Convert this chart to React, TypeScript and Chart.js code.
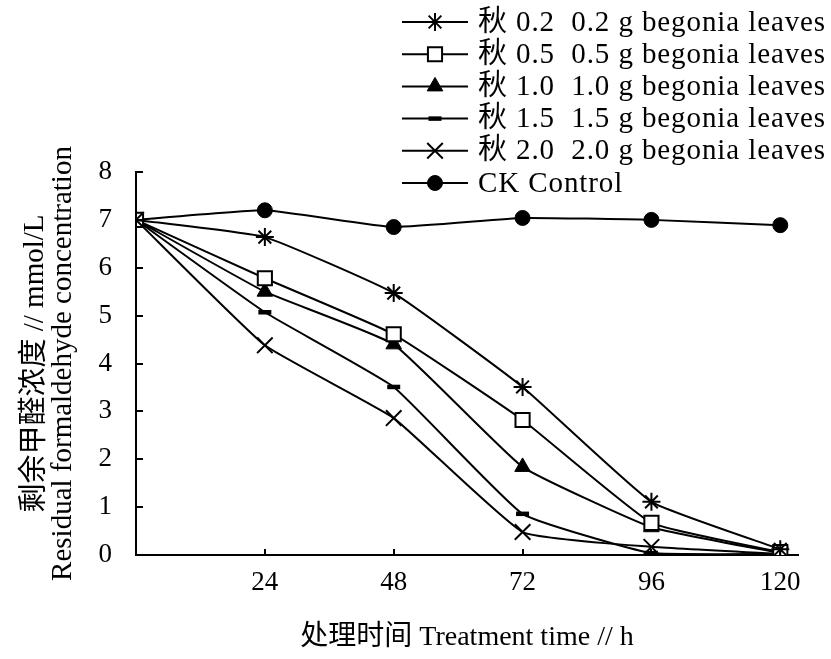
import React, { useEffect, useRef } from 'react';
import { Chart, registerables, PointElement } from 'chart.js';

Chart.register(...registerables);

// ---- data ----
const hours = [0, 24, 48, 72, 96, 120];
const xTickValues = [0, 24, 48, 72, 96, 120];
const yTickValues = [0, 1, 2, 3, 4, 5, 6, 7, 8];
const seriesLabels = [
  '秋 0.2  0.2 g begonia leaves',
  '秋 0.5  0.5 g begonia leaves',
  '秋 1.0  1.0 g begonia leaves',
  '秋 1.5  1.5 g begonia leaves',
  '秋 2.0  2.0 g begonia leaves',
  'CK Control',
];
const s02 = [7.0, 6.64, 5.47, 3.51, 1.11, 0.12];
const s05 = [7.0, 5.78, 4.61, 2.82, 0.67, 0.06];
const s10 = [7.0, 5.5, 4.4, 1.84, 0.58, 0.04];
const s15 = [7.0, 5.07, 3.51, 0.86, 0.04, 0.02];
const s20 = [7.0, 4.38, 2.86, 0.48, 0.17, 0.02];
const ck = [7.0, 7.2, 6.85, 7.04, 7.0, 6.89];
const seriesValues = [s02, s05, s10, s15, s20, ck];

const yTitleLines = ['剩余甲醛浓度 // mmol/L', 'Residual formaldehyde concentration'];
const xTitle = '处理时间 Treatment time // h';

// ---- styles ----
const FONT = '"Liberation Serif", "Noto Sans CJK SC", serif';
const markerStyles = [
  { pointStyle: 'star', radius: 9, borderWidth: 2, bg: '#000' },
  { pointStyle: 'rect', radius: 10, borderWidth: 2, bg: '#fff' },
  { pointStyle: 'triangle', radius: 9, borderWidth: 1, bg: '#000' },
  { pointStyle: 'line', radius: 6.5, borderWidth: 4.5, bg: '#000' },
  { pointStyle: 'crossRot', radius: 11, borderWidth: 2, bg: '#000' },
  { pointStyle: 'circle', radius: 7.5, borderWidth: 1, bg: '#000' },
];

const W = 831;
const H = 659;
const PLOT_LEFT = 136;
const PLOT_RIGHT = 798;
const PLOT_TOP = 172;
const PLOT_BOTTOM = 555;

const innerTicks = {
  id: 'innerTicks',
  afterDraw(chart: any) {
    const { ctx, scales } = chart;
    const xs = scales.x;
    const ys = scales.y;
    const area = chart.chartArea;
    ctx.save();
    ctx.strokeStyle = '#000';
    ctx.lineWidth = 2;
    ctx.beginPath();
    xTickValues.forEach((v) => {
      if (v === 0) return;
      const px = Math.round(xs.getPixelForValue(v));
      ctx.moveTo(px, area.bottom);
      ctx.lineTo(px, area.bottom - 6);
    });
    yTickValues.forEach((v) => {
      if (v === 0) return;
      const py = Math.round(ys.getPixelForValue(v));
      ctx.moveTo(area.left, py);
      ctx.lineTo(area.left + 7, py);
    });
    ctx.stroke();
    ctx.restore();
  },
};

const lineLegend = {
  id: 'lineLegend',
  afterDraw(chart: any) {
    const ctx = chart.ctx;
    ctx.save();
    chart.data.datasets.forEach((ds: any, i: number) => {
      const y = 22 + i * 32.2;
      ctx.strokeStyle = '#000';
      ctx.lineWidth = 2;
      ctx.beginPath();
      ctx.moveTo(402, y);
      ctx.lineTo(468, y);
      ctx.stroke();
      const m = markerStyles[i];
      const p: any = new (PointElement as any)({});
      p.x = 435;
      p.y = y;
      p.options = {
        pointStyle: m.pointStyle,
        radius: m.radius,
        borderWidth: m.borderWidth,
        borderColor: '#000',
        backgroundColor: m.bg,
        rotation: 0,
      };
      p.draw(ctx);
      ctx.fillStyle = '#000';
      ctx.font = `29px ${FONT}`;
      try {
        (ctx as any).letterSpacing = '0.9px';
      } catch (e) {
        /* ignore */
      }
      ctx.textAlign = 'left';
      ctx.textBaseline = 'middle';
      ctx.fillText(ds.label, 478, y + 1);
      try {
        (ctx as any).letterSpacing = '0px';
      } catch (e) {
        /* ignore */
      }
    });
    ctx.restore();
  },
};

export default function App() {
  const ref = useRef<HTMLCanvasElement | null>(null);

  useEffect(() => {
    if (!ref.current) return;
    const datasets = seriesValues.map((vals, i) => ({
      label: seriesLabels[i],
      data: vals.map((v, j) => ({ x: hours[j], y: v })),
      borderColor: '#000',
      borderWidth: 2,
      tension: 0.12,
      pointStyle: markerStyles[i].pointStyle,
      pointRadius: markerStyles[i].radius,
      pointBorderWidth: markerStyles[i].borderWidth,
      pointBorderColor: '#000',
      pointBackgroundColor: markerStyles[i].bg,
      fill: false,
    }));

    const chart = new Chart(ref.current, {
      type: 'line',
      data: { datasets },
      plugins: [innerTicks, lineLegend],
      options: {
        animation: false,
        responsive: false,
        devicePixelRatio: 1,
        layout: {
          padding: { left: 0, top: PLOT_TOP, right: W - PLOT_RIGHT, bottom: 0 },
        },
        plugins: {
          legend: { display: false },
          tooltip: { enabled: false },
        },
        scales: {
          x: {
            type: 'linear',
            min: 0,
            max: 123.3,
            afterFit: (s: any) => {
              s.height = H - PLOT_BOTTOM;
            },
            afterBuildTicks: (s: any) => {
              s.ticks = xTickValues.map((v) => ({ value: v }));
            },
            grid: { display: false, drawTicks: false },
            border: { display: true, color: '#000', width: 2 },
            ticks: {
              color: '#000',
              padding: 12,
              maxRotation: 0,
              font: { family: FONT, size: 27 },
              callback: (v: any) => (v === 0 ? '' : String(v)),
            },
            title: {
              display: true,
              text: xTitle,
              color: '#000',
              font: { family: FONT, size: 28, lineHeight: '29px' as any },
              padding: { top: 0, bottom: 7 },
            },
          },
          y: {
            type: 'linear',
            min: 0,
            max: 8,
            afterFit: (s: any) => {
              s.width = PLOT_LEFT;
            },
            afterBuildTicks: (s: any) => {
              s.ticks = yTickValues.map((v) => ({ value: v }));
            },
            grid: { display: false, drawTicks: false },
            border: { display: true, color: '#000', width: 2 },
            ticks: {
              color: '#000',
              padding: 24,
              font: { family: FONT, size: 27 },
            },
            title: {
              display: true,
              text: yTitleLines,
              color: '#000',
              font: { family: FONT, size: 29, lineHeight: '28px' as any },
              padding: { top: 21, bottom: 0 },
            },
          },
        },
      } as any,
    });
    return () => chart.destroy();
  }, []);

  return (
    <div style={{ position: 'absolute', left: 0, top: 0, width: W, height: H, background: '#fff' }}>
      <canvas ref={ref} width={W} height={H} style={{ display: 'block', width: W, height: H }} />
    </div>
  );
}
